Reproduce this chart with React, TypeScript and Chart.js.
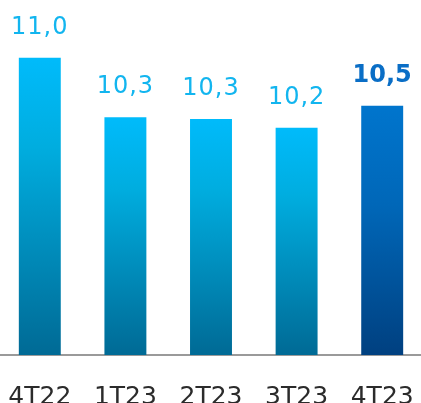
import React, { useEffect, useRef } from "react";
import { Chart, registerables } from "chart.js";

Chart.register(...registerables);

const categories = ["4T22", "1T23", "2T23", "3T23", "4T23"];
const values = [11.0, 10.32, 10.3, 10.2, 10.45];
const valueLabels = ["11,0", "10,3", "10,3", "10,2", "10,5"];
const highlighted = [false, false, false, false, true];

const Y_MIN = 7.6;
const Y_MAX = 11.66;
const FONT = "'DejaVu Sans', sans-serif";

const valueLabelPlugin = {
  id: "valueLabels",
  afterDatasetsDraw(chart: any) {
    const { ctx } = chart;
    const meta = chart.getDatasetMeta(0);
    ctx.save();
    meta.data.forEach((bar: any, i: number) => {
      const hl = highlighted[i];
      ctx.font = `${hl ? "bold " : ""}24px ${FONT}`;
      ctx.fillStyle = hl ? "#0a6ec6" : "#12b5ef";
      (ctx as any).letterSpacing = hl ? "0px" : "1px";
      ctx.textAlign = "center";
      ctx.textBaseline = "alphabetic";
      ctx.fillText(valueLabels[i], bar.x, bar.y - 24);
    });
    ctx.restore();
  },
};

export default function App() {
  const ref = useRef<HTMLCanvasElement | null>(null);
  useEffect(() => {
    if (!ref.current) return;
    const chart = new Chart(ref.current, {
      type: "bar",
      data: {
        labels: categories,
        datasets: [
          {
            data: values,
            barPercentage: 0.49,
            categoryPercentage: 1,
            backgroundColor: (c: any) => {
              const chart = c.chart;
              const i = c.dataIndex;
              const hl = highlighted[i];
              if (!chart.chartArea || !chart.scales.y) return hl ? "#005ba8" : "#0095cc";
              const y = chart.scales.y;
              const top = y.getPixelForValue(values[i]);
              const bottom = y.getPixelForValue(Y_MIN);
              const g = chart.ctx.createLinearGradient(0, top, 0, bottom);
              if (hl) {
                g.addColorStop(0, "#0075cd");
                g.addColorStop(0.4, "#0067b8");
                g.addColorStop(1, "#004080");
              } else {
                g.addColorStop(0, "#00bbfb");
                g.addColorStop(0.3, "#00addf");
                g.addColorStop(1, "#006a95");
              }
              return g;
            },
          },
        ],
      },
      options: {
        animation: false,
        responsive: false,
        maintainAspectRatio: false,
        layout: { padding: 0 },
        plugins: {
          legend: { display: false },
          tooltip: { enabled: false },
        },
        scales: {
          x: {
            grid: { display: false, drawTicks: false },
            border: { display: true, color: "#9a9a9a", width: 2 },
            ticks: {
              color: "#2b2b2b",
              padding: 27,
              font: { family: FONT, size: 25 },
            },
            afterFit: (scale: any) => {
              scale.height = 48;
              scale.paddingLeft = 0;
              scale.paddingRight = 0;
            },
          },
          y: {
            display: false,
            min: Y_MIN,
            max: Y_MAX,
          },
        },
      },
      plugins: [valueLabelPlugin],
    });
    return () => chart.destroy();
  }, []);
  return (
    <div style={{ position: "fixed", left: -3, top: 0, width: 428, height: 403 }}>
      <canvas ref={ref} width={428} height={403} style={{ display: "block" }} />
    </div>
  );
}
